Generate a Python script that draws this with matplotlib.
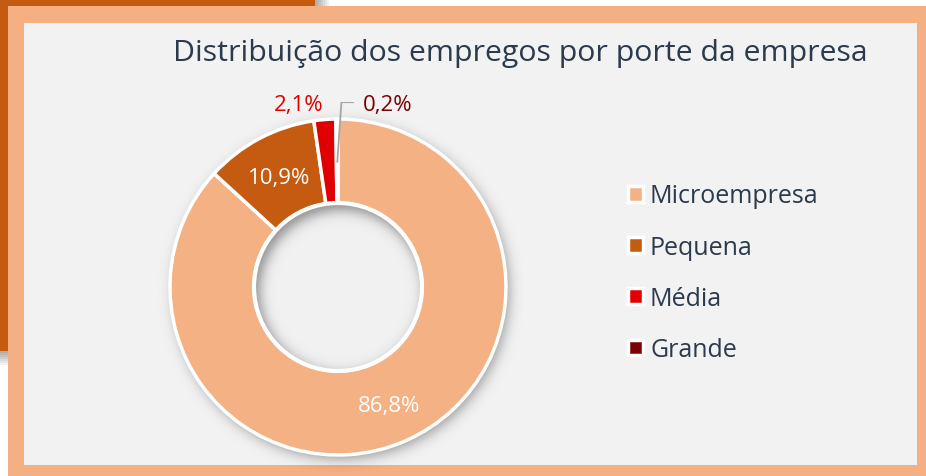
import numpy as np
import matplotlib.pyplot as plt
from matplotlib.patches import Rectangle, Circle

plt.rcParams['font.family'] = ['Open Sans', 'DejaVu Sans']

categorias = ['Microempresa', 'Pequena', 'Média', 'Grande']
valores = [86.8, 10.9, 2.1, 0.2]
rotulos = ['86,8%', '10,9%', '2,1%', '0,2%']
cores = ['#F4B183', '#C55A11', '#E00000', '#7B0000']

W, H = 926, 477
fig = plt.figure(figsize=(W / 100, H / 100), dpi=100)
fig.patch.set_facecolor('white')


def px_rect(x0, y0, x1, y1, **kw):
    # rectangle from pixel coords (origin top-left)
    r = Rectangle((x0 / W, 1 - y1 / H), (x1 - x0) / W, (y1 - y0) / H,
                  transform=fig.transFigure, zorder=-5, **kw)
    fig.add_artist(r)


# slide background: dark orange block with a soft shadow
for i in range(8):
    px_rect(0, 0, 315 + 2 * i, 352 + 2 * i, facecolor='black', edgecolor='none', alpha=0.05)
px_rect(0, 0, 315, 352, facecolor='#C55A11', edgecolor='none')

# chart frame + panel
px_rect(8, 7, 926, 477, facecolor='#F4B083', edgecolor='none')
px_rect(24, 24, 917, 466, facecolor='#F2F2F2', edgecolor='none')

fig.text(520 / W, 1 - 53 / H, 'Distribuição dos empregos por porte da empresa',
         ha='center', va='center', fontsize=21.8, color='#2B3A4C')

# donut
cx, cy, R = 338, 288, 168
half = R * 1.1
ax = fig.add_axes([(cx - half) / W, (H - cy - half) / H, 2 * half / W, 2 * half / H])

wedges, _ = ax.pie(valores, radius=1.0, startangle=90, counterclock=False, colors=cores,
                   wedgeprops=dict(width=0.5, edgecolor='white', linewidth=2.5))
ax.set_xlim(-1.1, 1.1)
ax.set_ylim(-1.1, 1.1)
ax.set_aspect('equal')
ax.axis('off')

# shadows (light from top-left)
g = np.linspace(-1.1, 1.1, 700)
gx, gy = np.meshgrid(g, g[::-1])
blur = 0.022


def sig(v):
    return 1 / (1 + np.exp(-v))


d_out = np.hypot(gx - 0.02, gy + 0.025)
sh = np.zeros(gx.shape + (4,))
sh[..., 3] = 0.35 * sig((1.0 - d_out) / blur)
ax.imshow(sh, extent=(-1.1, 1.1, -1.1, 1.1), zorder=0, interpolation='bilinear')

d_in = np.hypot(gx - 0.022, gy + 0.03)
sh2 = np.ones(gx.shape + (4,))
shade = 0.6 * sig((d_in - 0.485) / blur)
sh2[..., :3] = (0.949 * (1 - shade))[..., None] + (0.3 * shade)[..., None]
im = ax.imshow(sh2, extent=(-1.1, 1.1, -1.1, 1.1), zorder=3, interpolation='bilinear')
im.set_clip_path(Circle((0, 0), 0.5, transform=ax.transData))
ax.add_patch(Circle((0, 0), 0.5, fill=False, edgecolor='white', lw=3, zorder=4))

angs = []
for w in wedges:
    angs.append(np.deg2rad((w.theta1 + w.theta2) / 2))

dy = 8 / R  # baseline sits half a cap height below the visual centre
for i in [0, 1]:
    a = angs[i]
    ax.text(0.755 * np.cos(a), 0.755 * np.sin(a) - dy, rotulos[i], ha='center', va='baseline',
            fontsize=16, color='white', zorder=5)

a = angs[2]
ax.text(1.1 * np.cos(a) - 0.15, 1.1 - dy, rotulos[2], ha='center', va='baseline',
        fontsize=16, color=cores[2])

# leader for the tiny slice
a = angs[3]
x0, y0 = 0.74 * np.cos(a), 0.74 * np.sin(a)
ax.plot([x0, x0 + 0.025, x0 + 0.1], [y0, 1.1, 1.1], color='#A6A6A6', lw=1.3,
        zorder=5, solid_capstyle='butt')
ax.text(x0 + 0.155, 1.1 - dy, rotulos[3], ha='left', va='baseline', fontsize=16,
        color=cores[3])

leg = fig.legend(wedges, categorias, loc='upper left', bbox_to_anchor=(605 / W, 1 - 162 / H),
                 frameon=False, fontsize=18, labelcolor='#2B3A4C', handlelength=0.6,
                 handleheight=0.6, handletextpad=0.3, labelspacing=1.05)

fig.savefig('out.png', dpi=100)
